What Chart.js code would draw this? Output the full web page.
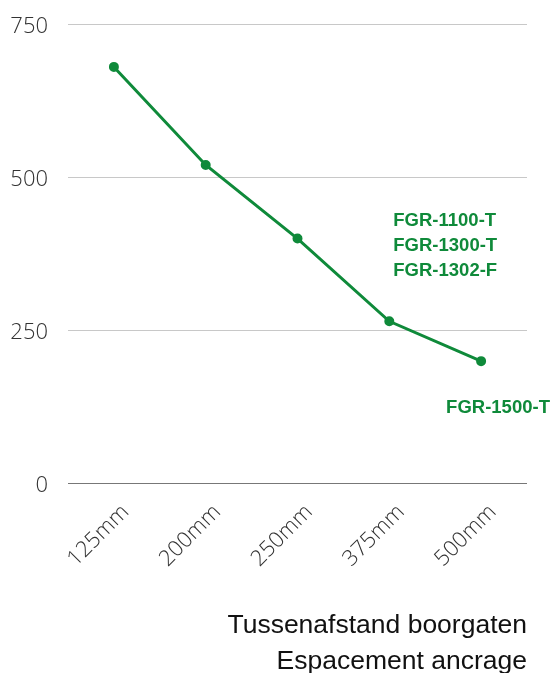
<!DOCTYPE html>
<html lang="nl">
<head>
<meta charset="UTF-8">
<title>Tussenafstand boorgaten</title>
<script src="https://cdn.jsdelivr.net/npm/chart.js@4.4.1/dist/chart.umd.min.js"></script>
<style>
  html, body { margin: 0; padding: 0; background: #fff; }
  .wrap { width: 552px; height: 673px; }
</style>
</head>
<body>
<div class="wrap"><canvas id="spacingChart" width="552" height="673"></canvas></div>
<script>
// spacing between drill holes and the value at each spacing
const spacings = ['125mm', '200mm', '250mm', '375mm', '500mm'];
const values = [680, 520, 400, 265, 200];
const yTicks = [0, 250, 500, 750];

// product labels, anchored to a category with a pixel offset
const productGroups = [
  { at: '375mm', dx: 4, dy: -100, lines: ['FGR-1100-T', 'FGR-1300-T', 'FGR-1302-F'] },
  { at: '500mm', dx: -35, dy: 47, lines: ['FGR-1500-T'] }
];

const green = '#0f8a3a';

const productLabels = {
  id: 'productLabels',
  afterDraw(chart) {
    const ctx = chart.ctx;
    const xs = chart.scales.x;
    const ys = chart.scales.y;
    ctx.save();
    ctx.fillStyle = green;
    ctx.font = 'bold 18.5px "Liberation Sans", Arial, sans-serif';
    ctx.textAlign = 'left';
    ctx.textBaseline = 'middle';
    productGroups.forEach(g => {
      const i = spacings.indexOf(g.at);
      const x = xs.getPixelForValue(i) + g.dx;
      const y = ys.getPixelForValue(values[i]) + g.dy;
      g.lines.forEach((t, k) => ctx.fillText(t, x, y + k * 25));
    });
    ctx.restore();
  }
};

new Chart(document.getElementById('spacingChart'), {
  type: 'line',
  data: {
    labels: spacings,
    datasets: [{
      data: values,
      borderColor: green,
      backgroundColor: green,
      borderWidth: 3,
      pointRadius: 3.5,
      pointHoverRadius: 3.5,
      tension: 0
    }]
  },
  options: {
    responsive: false,
    animation: false,
    layout: { padding: { top: 24, right: 25, left: 10, bottom: 0 } },
    plugins: { legend: { display: false }, tooltip: { enabled: false } },
    scales: {
      x: {
        offset: true,
        // rotated labels fit inside the left margin already
        afterFit(scale) { scale.paddingLeft = 0; scale.paddingRight = 0; },
        grid: { display: false },
        border: { display: false },
        ticks: {
          maxRotation: 45, minRotation: 45,
          color: '#333',
          padding: 8,
          labelOffset: 12,
          font: { family: '"Open Sans Light", "Open Sans", sans-serif', size: 22, weight: 300 }
        },
        title: {
          display: true,
          align: 'end',
          text: ['Tussenafstand boorgaten', 'Espacement ancrage'],
          color: '#111',
          padding: { top: 28, bottom: -6 },
          font: { family: '"Liberation Sans", Arial, sans-serif', size: 26.5, lineHeight: 1.33 }
        }
      },
      y: {
        min: 0, max: 750,
        afterBuildTicks(axis) { axis.ticks = yTicks.map(v => ({ value: v })); },
        afterFit(scale) { scale.width = 58; scale.paddingTop = 0; scale.paddingBottom = 0; },
        border: { display: false },
        grid: {
          drawTicks: false,
          color: c => c.tick.value === 0 ? '#777' : '#c8c8c8',
          lineWidth: 1
        },
        ticks: {
          padding: 20,
          labelOffset: 3,
          color: '#333',
          font: { family: '"Open Sans Light", "Open Sans", sans-serif', size: 22, weight: 300 }
        }
      }
    }
  },
  plugins: [productLabels]
});
</script>
</body>
</html>
